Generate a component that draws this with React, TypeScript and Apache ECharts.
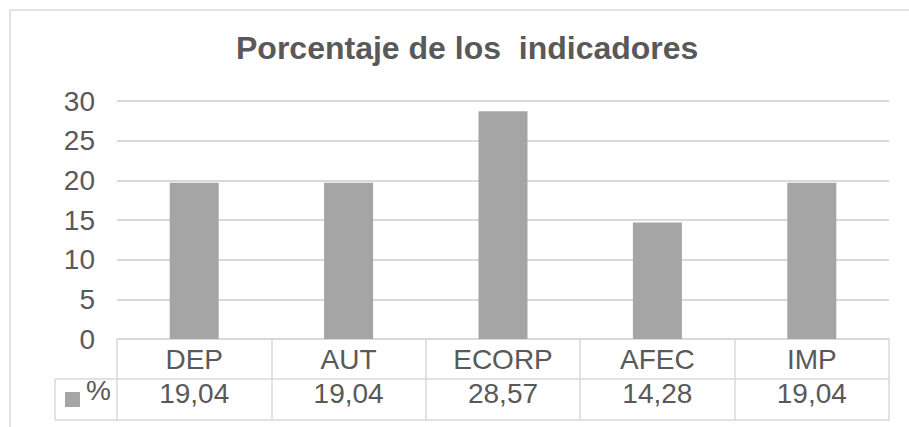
import React, { useEffect, useRef } from "react";
import * as echarts from "echarts";

const categories = ["DEP", "AUT", "ECORP", "AFEC", "IMP"];
const barValues = [19.7, 19.7, 28.7, 14.7, 19.7];
const tableValues = ["19,04", "19,04", "28,57", "14,28", "19,04"];
const seriesName = "%";
const titleText = "Porcentaje de los  indicadores";

const FONT = '"Liberation Sans", Arial, sans-serif';
const TEXT = "#595959";
const LINE = "#d9d9d9";
const BAR = "#a5a5a5";

export default function App() {
  const ref = useRef<HTMLDivElement>(null);
  useEffect(() => {
    if (!ref.current) return;
    const chart = echarts.init(ref.current, undefined, { renderer: "svg" });
    chart.setOption({
      animation: false,
      backgroundColor: "#ffffff",
      textStyle: { fontFamily: FONT },
      title: {
        text: titleText,
        left: 236,
        top: 32,
        padding: 0,
        textStyle: { fontFamily: FONT, fontSize: 32, fontWeight: "bold", color: TEXT },
      },
      legend: {
        data: [seriesName],
        left: 65,
        top: 392,
        padding: 0,
        icon: "rect",
        itemWidth: 15,
        itemHeight: 15,
        selectedMode: false,
        formatter: () => "",
        textStyle: { fontSize: 1 },
      },
      grid: { left: 117, right: 20, top: 101, bottom: 88, containLabel: false },
      xAxis: [
        {
          type: "category",
          data: categories,
          position: "bottom",
          axisLine: { show: true, lineStyle: { color: LINE, width: 1.5 } },
          axisTick: { show: true, length: 40, interval: 0, lineStyle: { color: LINE, width: 1.5 } },
          axisLabel: { interval: 0, margin: 6, fontFamily: FONT, fontSize: 28, color: TEXT },
        },
        {
          type: "category",
          data: tableValues,
          position: "bottom",
          offset: 40,
          axisLine: { show: true, lineStyle: { color: LINE, width: 1.5 } },
          axisTick: { show: true, length: 41, interval: 0, lineStyle: { color: LINE, width: 1.5 } },
          axisLabel: { interval: 0, margin: 0, fontFamily: FONT, fontSize: 28, color: TEXT },
        },
        {
          type: "category",
          data: categories,
          position: "bottom",
          offset: 81,
          axisLine: { show: true, lineStyle: { color: LINE, width: 1.5 } },
          axisTick: { show: false },
          axisLabel: { show: false },
        },
      ],
      yAxis: {
        type: "value",
        min: 0,
        max: 30,
        interval: 5,
        axisLine: { show: false },
        axisTick: { show: false },
        axisLabel: { margin: 22, fontFamily: FONT, fontSize: 28, color: TEXT },
        splitLine: { show: true, lineStyle: { color: LINE, width: 2 } },
      },
      series: [
        {
          name: seriesName,
          type: "bar",
          xAxisIndex: 0,
          data: barValues,
          barWidth: 49,
          itemStyle: { color: BAR },
        },
      ],
      graphic: [
        { type: "line", shape: { x1: 10, y1: 10, x2: 909, y2: 10 }, style: { stroke: LINE, lineWidth: 1.5 } },
        { type: "line", shape: { x1: 10, y1: 10, x2: 10, y2: 427 }, style: { stroke: LINE, lineWidth: 1.5 } },
        { type: "line", shape: { x1: 55, y1: 379, x2: 117, y2: 379 }, style: { stroke: LINE, lineWidth: 1.5 } },
        { type: "line", shape: { x1: 55, y1: 420, x2: 117, y2: 420 }, style: { stroke: LINE, lineWidth: 1.5 } },
        { type: "line", shape: { x1: 55, y1: 379, x2: 55, y2: 420 }, style: { stroke: LINE, lineWidth: 1.5 } },
        {
          type: "text",
          x: 86,
          y: 390,
          style: {
            text: seriesName,
            fontFamily: FONT,
            fontSize: 28,
            fill: TEXT,
            textAlign: "left",
            textVerticalAlign: "middle",
          },
        },
      ],
    });
    return () => chart.dispose();
  }, []);
  return (
    <div
      ref={ref}
      style={{ position: "fixed", left: 0, top: 0, width: 909, height: 427 }}
    />
  );
}
